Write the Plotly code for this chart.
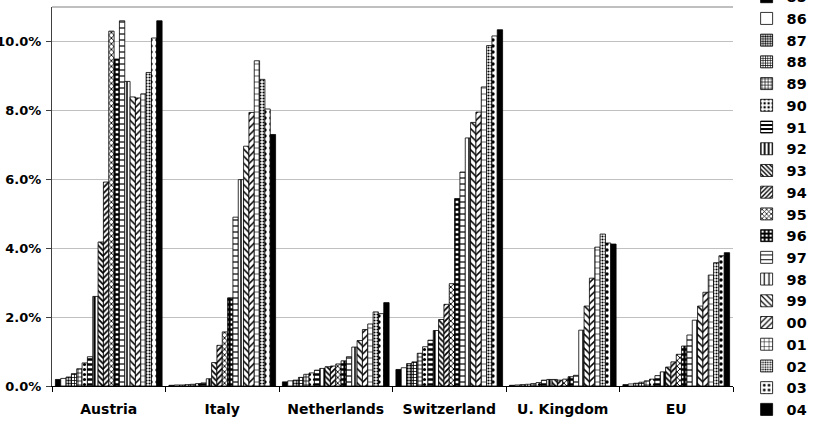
import plotly.graph_objects as go

countries = ["Austria", "Italy", "Netherlands", "Switzerland", "U. Kingdom", "EU"]
years = ["85", "86", "87", "88", "89", "90", "91", "92", "93", "94",
         "95", "96", "97", "98", "99", "00", "01", "02", "03", "04"]

# share in percent, one list per country, ordered 1985..2004
austria = [0.19, 0.22, 0.26, 0.36, 0.50, 0.67, 0.85, 2.60, 4.18, 5.92,
           10.30, 9.49, 10.60, 8.84, 8.39, 8.36, 8.48, 9.10, 10.10, 10.60]
italy = [0.02, 0.03, 0.03, 0.04, 0.05, 0.07, 0.09, 0.21, 0.68, 1.18,
         1.57, 2.56, 4.90, 5.99, 6.96, 7.94, 9.44, 8.90, 8.04, 7.30]
netherlands = [0.12, 0.15, 0.17, 0.25, 0.34, 0.38, 0.46, 0.51, 0.56, 0.58,
               0.64, 0.73, 0.85, 1.13, 1.32, 1.64, 1.80, 2.15, 2.10, 2.42]
switzerland = [0.48, 0.53, 0.65, 0.70, 0.95, 1.14, 1.33, 1.61, 1.93, 2.37,
               2.97, 5.44, 6.21, 7.20, 7.65, 7.95, 8.68, 9.88, 10.16, 10.34]
uk = [0.02, 0.03, 0.04, 0.05, 0.07, 0.10, 0.17, 0.19, 0.19, 0.17,
      0.20, 0.27, 0.31, 1.62, 2.32, 3.13, 4.03, 4.41, 4.15, 4.12]
eu = [0.04, 0.06, 0.08, 0.11, 0.15, 0.20, 0.30, 0.41, 0.55, 0.70,
      0.92, 1.16, 1.48, 1.91, 2.32, 2.72, 3.22, 3.58, 3.78, 3.87]

series = [austria, italy, netherlands, switzerland, uk, eu]

y_tickvals = [0, 2, 4, 6, 8, 10]
y_ticktext = [f"{v:.1f}%" for v in y_tickvals]

# fill style per year: (background colour, pattern shape, pattern size, solidity)
styles = [
    ("black", "", 8, 0.3),
    ("white", "", 8, 0.3),
    ("white", ".", 3, 0.5),
    ("white", "+", 3, 0.45),
    ("white", "+", 4, 0.35),
    ("white", ".", 5, 0.3),
    ("white", "-", 5, 0.5),
    ("white", "|", 5, 0.45),
    ("white", "\\", 4, 0.45),
    ("white", "/", 4, 0.45),
    ("white", "x", 4, 0.4),
    ("white", "+", 5, 0.7),
    ("white", "-", 6, 0.2),
    ("white", "|", 6, 0.25),
    ("white", "\\", 5, 0.3),
    ("white", "/", 5, 0.3),
    ("white", "+", 6, 0.2),
    ("white", ".", 3, 0.4),
    ("white", ".", 6, 0.25),
    ("black", "", 8, 0.3),
]

font_b = dict(family="DejaVu Sans", size=14, color="black", weight="bold")
font_y = dict(family="DejaVu Sans", size=13, color="black", weight="bold")

fig = go.Figure()
for i, yr in enumerate(years):
    bg, shape, size, sol = styles[i]
    vals = [s[i] for s in series]
    marker = dict(color=bg, line=dict(color="black", width=0.8))
    if shape:
        marker["pattern"] = dict(shape=shape, size=size, solidity=sol,
                                 fgcolor="black", bgcolor=bg, fillmode="replace")
    fig.add_trace(go.Bar(name=yr, x=countries, y=vals, marker=marker))

fig.update_layout(
    width=817, height=430,
    barmode="group", bargap=0.06, bargroupgap=0,
    plot_bgcolor="white", paper_bgcolor="white",
    margin=dict(l=52, r=84, t=7, b=44, autoexpand=False),
    font=font_b,
    showlegend=True,
    legend=dict(x=1.02, xanchor="left", y=1.069, yanchor="top",
                font=dict(family="DejaVu Sans", size=14.4, color="black", weight="bold"),
                maxheight=600, bgcolor="rgba(0,0,0,0)", borderwidth=0,
                itemwidth=30, tracegroupgap=0),
    xaxis=dict(type="category", showline=True, linecolor="black", linewidth=1,
               ticks="outside", tickson="boundaries", ticklen=5, tickcolor="black",
               tickfont=font_b, ticklabelstandoff=10, showgrid=False),
    yaxis=dict(range=[0, 11], tickvals=y_tickvals, ticktext=y_ticktext,
               showline=True, linecolor="#404040", linewidth=1,
               ticks="outside", ticklen=5, tickcolor="#404040",
               showgrid=True, gridcolor="#c0c0c0", gridwidth=1,
               tickfont=font_y, ticklabelstandoff=2, zeroline=False),
)
fig.add_shape(type="line", xref="paper", yref="paper", x0=0, x1=1, y0=1, y1=1,
              line=dict(color="#808080", width=1))

fig.write_html("out.html")
